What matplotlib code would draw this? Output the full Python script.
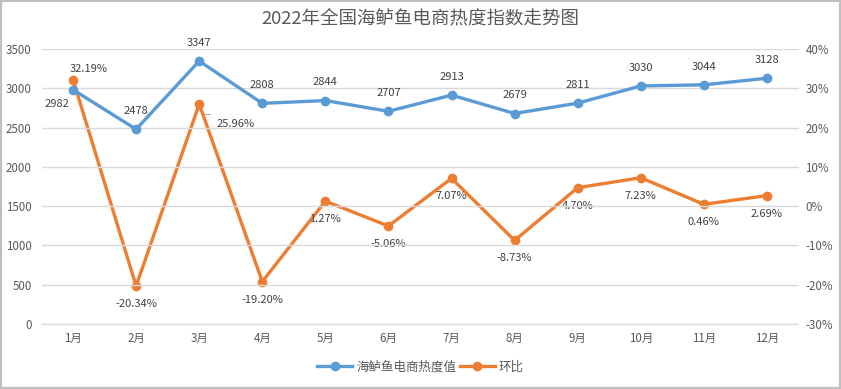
import matplotlib
matplotlib.use("Agg")
import matplotlib.pyplot as plt
from matplotlib.ticker import FuncFormatter
from matplotlib.patches import Rectangle

plt.rcParams['font.family'] = ['Noto Sans CJK SC', 'DejaVu Sans']

months = ['1月', '2月', '3月', '4月', '5月', '6月', '7月', '8月', '9月', '10月', '11月', '12月']
heat = [2982, 2478, 3347, 2808, 2844, 2707, 2913, 2679, 2811, 3030, 3044, 3128]
mom = [32.19, -20.34, 25.96, -19.20, 1.27, -5.06, 7.07, -8.73, 4.70, 7.23, 0.46, 2.69]
left_ticks = [0, 500, 1000, 1500, 2000, 2500, 3000, 3500]
right_ticks = [-30, -20, -10, 0, 10, 20, 30, 40]

blue = '#5B9BD5'
orange = '#ED7D31'
txt = '#595959'
lbl = '#404040'

fig = plt.figure(figsize=(8.41, 3.89), dpi=100)
fig.patches.append(Rectangle((0, 0), 1, 1, transform=fig.transFigure,
                             fill=False, edgecolor='#BFBFBF', linewidth=3, zorder=10))
W, H = 841, 389
ax = fig.add_axes([41.5 / W, 1 - 324 / H, (798.5 - 41.5) / W, (324 - 49) / H])
ax2 = ax.twinx()

x = list(range(len(months)))
ax.set_xlim(-0.5, len(months) - 0.5)
ax.set_ylim(0, 3500)
ax2.set_ylim(-30, 40)
ax.set_yticks(left_ticks)
ax2.set_yticks(right_ticks)
ax2.yaxis.set_major_formatter(FuncFormatter(lambda v, p: f'{int(v)}%'))
ax.set_xticks(x)
ax.set_xticklabels(months)

ax.grid(axis='y', color='#D9D9D9', linewidth=1)
ax.set_axisbelow(True)
for a in (ax, ax2):
    for s in a.spines.values():
        s.set_visible(False)
    a.tick_params(length=0, labelsize=8.3, colors=txt)
ax.spines['bottom'].set_visible(True)
ax.spines['bottom'].set_color('#D9D9D9')
ax.tick_params(axis='y', pad=7)
ax2.tick_params(axis='y', pad=5)
ax.tick_params(axis='x', pad=6)

l1, = ax.plot(x, heat, color=blue, lw=2.4, marker='o', ms=6, label='海鲈鱼电商热度值', zorder=3)
ax.set_zorder(ax2.get_zorder() + 1)
ax.patch.set_visible(False)
l2, = ax2.plot(x, mom, color=orange, lw=2.4, marker='o', ms=6, label='环比', zorder=3)

for i, v in enumerate(heat):
    off = (-11.5, -10) if i == 0 else (0, 13)
    ax.annotate(f'{v}', (i, v), xytext=off, textcoords='offset points',
                ha='center', va='center', fontsize=8, color=lbl)
for i, v in enumerate(mom):
    if i == 0:
        off = (11.5, 8)
    elif i == 2:
        off = (26, -14)
    else:
        off = (0, -13)
    ax2.annotate(f'{v:.2f}%', (i, v), xytext=off, textcoords='offset points',
                 ha='center', va='center', fontsize=8, color=lbl)
# short leader line for the 3月 label
ax2.annotate('', xy=(2, mom[2]), xytext=(2, mom[2]),
             textcoords='offset points')
ax2.plot([2.06, 2.17], [mom[2] - 2.6, mom[2] - 2.6], color='#A6A6A6', lw=0.8, zorder=2)

fig.text(0.5, 1 - 18 / H, '2022年全国海鲈鱼电商热度指数走势图', ha='center', va='center',
         fontsize=13.3, color=txt)
fig.legend(handles=[l1, l2], loc='center', bbox_to_anchor=(0.5, 1 - 367 / H),
           ncol=2, frameon=False, fontsize=9, labelcolor=txt, handlelength=2.8,
           columnspacing=0.3, handletextpad=0.3)

fig.savefig('out.png', dpi=100)
